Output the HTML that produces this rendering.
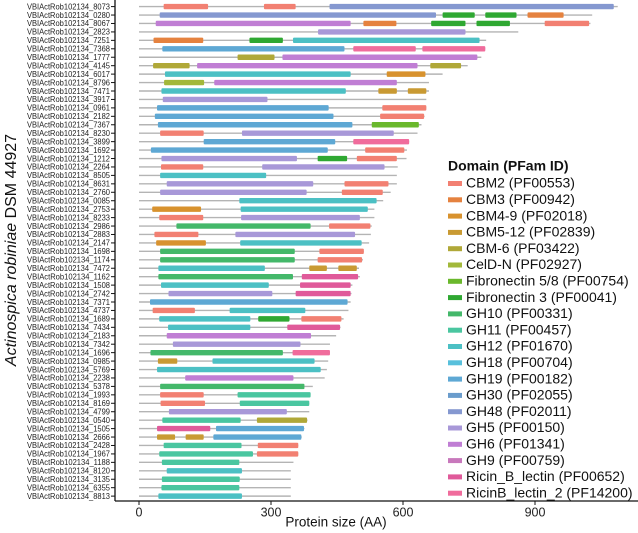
<!DOCTYPE html>
<html><head><meta charset="utf-8"><style>
html,body{margin:0;padding:0;background:#fff;}
svg{display:block;font-family:"Liberation Sans",sans-serif;}
</style></head><body>
<svg id="chart" width="638" height="533" viewBox="0 0 638 533">
<g id="plot"></g>
<g id="legend"></g>
<text x="12" y="250" transform="rotate(-90 12 250)" text-anchor="middle" font-size="16" dominant-baseline="middle" fill="#111"><tspan font-style="italic">Actinospica robiniae</tspan> DSM 44927</text>
<text x="336" y="523" text-anchor="middle" font-size="13.5" dominant-baseline="middle" fill="#111">Protein size (AA)</text>
</svg>
<script>
const proteins = ["8073","0280","8067","2823","7251","7368","1777","4145","6017","8796","7471","3917","0961","2182","7367","8230","3899","1692","1212","2264","8505","8631","2760","0085","2753","8233","2986","2883","2147","1698","1174","7472","1162","1508","2742","7371","4737","1689","7434","2183","7342","1696","0985","5769","2238","5378","1993","8169","4799","0540","1505","2666","2428","1967","1188","8120","3135","6355","8813"];
const lengths = [1088,1030,1026,862,789,787,778,747,690,659,659,653,653,649,642,633,614,609,608,588,586,586,572,555,535,535,529,527,523,511,509,500,502,485,483,481,476,465,458,448,434,434,430,427,422,395,390,387,387,383,376,370,362,362,351,345,345,345,345];
const domRow = [0,0,0, 1,1,1,1, 2,2,2,2,2, 3, 4,4,4, 5,5,5, 6,6, 7,7,7, 8,8, 9,9, 10,10,10, 11, 12,12, 13,13, 14,14, 15,15, 16,16, 17,17, 18,18,18, 19,19, 20, 21,21, 22,22, 23, 24,24, 25,25, 26,26, 27,27, 28,28, 29,29, 30,30, 31,31,31, 32,32, 33,33, 34,34, 35, 36,36, 37,37,37, 38,38, 39, 40, 41,41, 42,42, 43, 44, 45, 46,46, 47,47, 48, 49,49, 50,50, 51,51,51, 52,52, 53,53, 54, 55, 56, 57, 58];
const domType = ["CBM2","CBM2","GH48", "GH48","Fibronectin 3","Fibronectin 3","CBM3", "GH6","CBM3","Fibronectin 3","Fibronectin 3","CBM2", "GH5", "CBM3","Fibronectin 3","GH12", "GH19","RicinB_lectin_2","RicinB_lectin_2", "CBM-6","GH6", "CBM-6","GH6","CBM-6", "GH12","CBM4-9", "CelD-N","GH6", "GH12","CBM5-12","CBM5-12", "GH5", "GH19","CBM2", "GH19","CBM2", "GH19","Fibronectin 5/8", "CBM2","GH5", "GH19","RicinB_lectin_2", "GH19","CBM2", "GH5","Fibronectin 3","CBM2", "CBM2","GH5", "GH12", "GH5","CBM2", "GH5","CBM2", "GH12", "CBM4-9","GH12", "CBM2","GH5", "GH10","CBM2", "CBM2","GH5", "CBM4-9","GH12", "GH10","CBM2", "GH10","CBM2", "GH12","CBM5-12","CBM5-12", "GH10","Ricin_B_lectin", "GH12","Ricin_B_lectin", "GH5","Ricin_B_lectin", "GH19", "CBM2","GH12", "GH12","Fibronectin 3","CBM2", "GH12","Ricin_B_lectin", "GH6", "GH5", "GH10","RicinB_lectin_2", "CBM5-12","GH12", "GH12", "GH6", "GH10", "CBM2","GH11", "CBM2","GH11", "GH5", "GH11","CBM-6", "Ricin_B_lectin","GH19", "CBM5-12","CBM5-12","GH19", "GH11","CBM2", "GH11","CBM2", "GH11", "GH12", "GH11", "GH11", "GH12"];
const domStart = [56,284,433, 47,690,787,883, 38,510,664,767,922, 407, 33,251,350, 53,487,644, 224,326, 32,132,662, 59,563, 57,171, 51,544,611, 54, 41,553, 36,548, 43,529, 48,234, 147,487, 27,514, 51,406,495, 50,280, 48, 63,467, 48,461, 228, 30,231, 46,232, 85,432, 35,219, 39,230, 48,410, 48,406, 44,387,453, 44,370, 50,366, 67,356, 25, 31,206, 46,271,369, 66,337, 63, 77, 26,349, 43,167, 41, 105, 48, 48,224, 49,229, 68, 53,268, 41,175, 41,106,169, 56,270, 46,268, 52, 63, 52, 51, 44];
const domEnd = [157,356,1079, 675,763,858,965, 481,585,742,843,1023, 742, 146,327,774, 467,629,787, 308,769, 115,633,732, 481,651, 148,586, 470,586,653, 292, 431,653, 442,648, 485,636, 147,579, 446,614, 429,603, 359,473,586, 146,558, 289, 396,567, 381,554, 540, 141,520, 146,502, 390,526, 135,491, 152,506, 354,511, 354,507, 286,427,495, 350,498, 295,481, 303,481, 474, 127,378, 253,342,460, 253,457, 391, 367, 327,434, 87,399, 413, 351, 376, 147,390, 150,387, 336, 231,382, 162,375, 82,147,369, 233,362, 259,362, 228, 234, 229, 228, 234];
const legendNames = ["CBM2","CBM3","CBM4-9","CBM5-12","CBM-6","CelD-N","Fibronectin 5/8","Fibronectin 3","GH10","GH11","GH12","GH18","GH19","GH30","GH48","GH5","GH6","GH9","Ricin_B_lectin","RicinB_lectin_2"];
const legendIds = ["PF00553","PF00942","PF02018","PF02839","PF03422","PF02927","PF00754","PF00041","PF00331","PF00457","PF01670","PF00704","PF00182","PF02055","PF02011","PF00150","PF01341","PF00759","PF00652","PF14200"];
const xTicks = [0,300,600,900];

const palette = ["#f28072","#e5823f","#d8922e","#c99a33","#b0a838","#a2b83a","#6ab82c","#2fa832","#44b86a","#4ac6a0","#4cc0c4","#58c0dc","#5ea8d4","#6a9ccc","#8598d0","#a898d8","#c07ed4","#c878bc","#e05a9a","#f06c9c"];
const NS = "http://www.w3.org/2000/svg";
const x = v => 139 + v * 0.44;
const y = i => 6.6 + i * 8.44;
function mk(tag, attrs, parent){ const e=document.createElementNS(NS,tag); for(const k in attrs) e.setAttribute(k,attrs[k]); parent.appendChild(e); return e; }
const plot = document.getElementById('plot');
const leg = document.getElementById('legend');

// axes
let ax = mk('line',{x1:115,x2:115,y1:0,y2:501,stroke:'#111','stroke-width':1.3},plot);


ax = mk('line',{x1:115,x2:638,y1:501,y2:501,stroke:'#111','stroke-width':1.3},plot);



xTicks.forEach(t=>{
  const tk = mk('line',{x1:x(t),x2:x(t),y1:501,y2:505,stroke:'#111','stroke-width':1},plot);
  
  
  const tl = mk('text',{x:x(t),y:513,'text-anchor':'middle','dominant-baseline':'middle','font-size':12.5,fill:'#222'},plot);
  tl.textContent = t;
  
  
});

proteins.forEach((p,i)=>{
  const tk = mk('line',{x1:111,x2:115,y1:y(i),y2:y(i),stroke:'#111','stroke-width':1},plot);
  
  
  const lb = mk('text',{x:110,y:y(i)+0.5,'text-anchor':'end','dominant-baseline':'middle','font-size':8.6,fill:'#222',textLength:83,lengthAdjust:'spacingAndGlyphs'},plot);
  lb.textContent = 'VBIActRob102134_' + p;
  
  
  const ln = mk('line',{x1:x(0),x2:x(lengths[i]),y1:y(i),y2:y(i),stroke:'#b4b4b4','stroke-width':1.4},plot);
  
  
});

domRow.forEach((r,k)=>{
  const ci = legendNames.indexOf(domType[k]);
  const b = mk('rect',{x:x(domStart[k]),y:y(r)-2.7,width:x(domEnd[k])-x(domStart[k]),height:5.4,rx:1,fill:palette[ci]},plot);
  
  
});

const lt = mk('text',{x:448,y:167,'font-size':14,'font-weight':'bold','dominant-baseline':'middle',fill:'#111'},leg);
lt.textContent = 'Domain (PFam ID)';


legendNames.forEach((n,i)=>{
  const yy = 183.5 + i*16.3;
  const sw = mk('rect',{x:448,y:yy-2.5,width:14,height:5,fill:palette[i]},leg);
  
  
  const tx = mk('text',{x:466,y:yy+0.5,'font-size':14,'dominant-baseline':'middle',fill:'#111'},leg);
  tx.textContent = n + ' (' + legendIds[i] + ')';
  
  
});
</script>
</body></html>
